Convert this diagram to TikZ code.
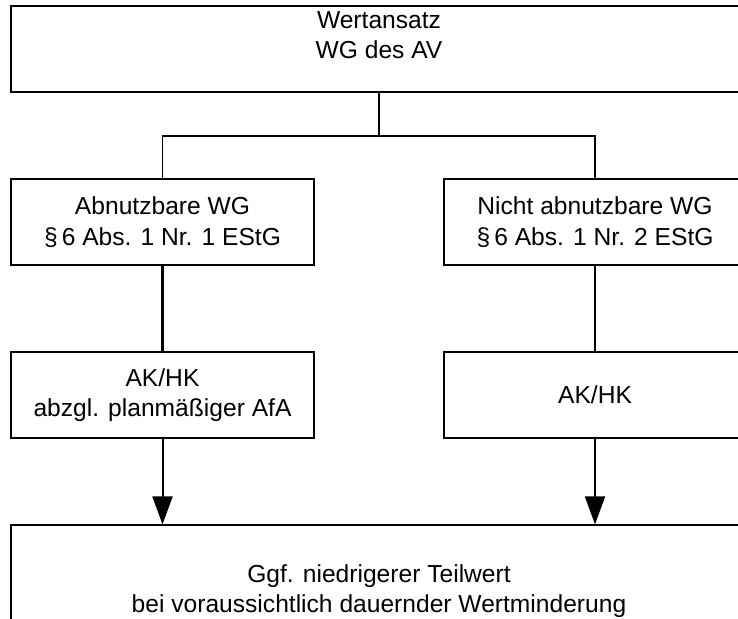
\documentclass[tikz,border=0pt]{standalone}
\usepackage{fontspec}
\setmainfont{Liberation Sans}
\usetikzlibrary{arrows.meta}

\tikzset{
  box/.style={draw=black, line width=1.2pt, inner sep=0pt, align=center,
    minimum height=86pt},
  txt/.style={inner sep=0pt, align=center},
  thin link/.style={draw=black, line width=1.3pt},
  thick link/.style={draw=black, line width=2.5pt},
  arrow link/.style={draw=black, line width=2pt,
    -{Triangle[width=20pt,length=28pt]}},
}

\begin{document}
\begin{tikzpicture}[x=1pt, y=-1pt,
  every node/.append style={font=\fontsize{24.6}{30.5}\selectfont}]
  \useasboundingbox (0,0) rectangle (738,618);
  \clip (0,0) rectangle (738,618);

  % top box
  \node[box, minimum width=736pt] (top) at (379,49) {};
  \node[txt] (toptext) at (379,35) {Wertansatz\\WG des AV};

  % second row
  \node[box, minimum width=303pt] (abn) at (162.5,222)
    {Abnutzbare WG\\\S\,6 Abs. 1 Nr. 1 EStG};
  \node[box, minimum width=302pt] (nabn) at (595,222)
    {Nicht abnutzbare WG\\\S\,6 Abs. 1 Nr. 2 EStG};

  % third row
  \node[box, minimum width=303pt] (akl) at (162.5,395)
    {AK/HK\\abzgl. planmäßiger AfA};
  \node[box, minimum width=302pt] (akr) at (595,395) {AK/HK};

  % bottom box (runs past the lower edge)
  \node[box, minimum width=736pt, minimum height=130pt] (bottom) at (379,590) {};
  \node[txt] (bottomtext) at (379,591)
    {Ggf. niedrigerer Teilwert\\bei voraussichtlich dauernder Wertminderung};

  % branching
  \coordinate (split) at (379,136);
  \draw[thin link] (top.south) -- (split);
  \draw[thin link] (abn.north) |- (split) -| (nabn.north);

  % vertical links
  \draw[thick link] (abn.south) -- (akl.north);
  \draw[thick link] (nabn.south) -- (akr.north);

  % arrows into the bottom box
  \draw[arrow link] (akl.south) -- (akl.south |- bottom.north);
  \draw[arrow link] (akr.south) -- (akr.south |- bottom.north);
\end{tikzpicture}
\end{document}
